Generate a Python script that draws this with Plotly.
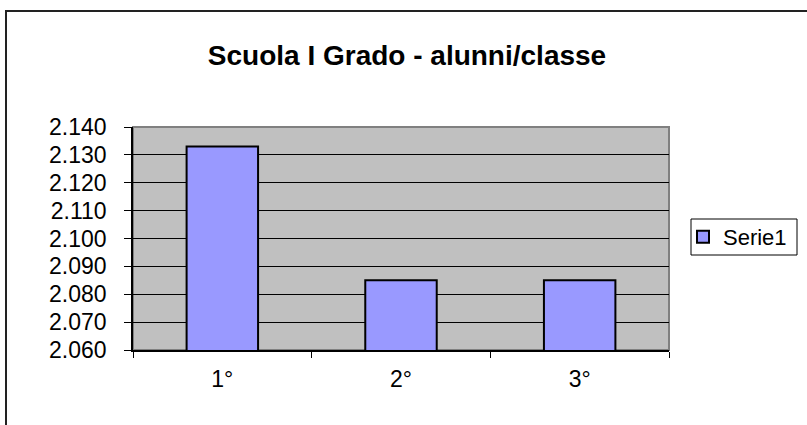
import plotly.graph_objects as go

categories = ["1°", "2°", "3°"]
values = [2133, 2085, 2085]
series_name = "Serie1"
title_text = "Scuola I Grado - alunni/classe"
y_min, y_max, y_step = 2060, 2140, 10

W, H = 807, 425
L, R, T, B = 133, 138, 127, 75
pw, ph = W - L - R, H - T - B

def px_to_paper_x(px):
    return (px - L) / pw

def px_to_paper_y(py):
    return 1 - (py - T) / ph

fig = go.Figure()
fig.add_trace(go.Bar(
    x=categories, y=values, name=series_name,
    marker=dict(color="#9999FF", line=dict(color="black", width=2)),
    showlegend=True,
))

fig.update_layout(
    width=W, height=H,
    margin=dict(l=L, r=R, t=T, b=B, autoexpand=False),
    paper_bgcolor="white",
    plot_bgcolor="#C0C0C0",
    separators=",.",
    bargap=0.6,
    font=dict(family="Liberation Sans, Arial, sans-serif", size=23, color="black"),
    title=dict(text="<b>" + title_text + "</b>", x=407 / W, xanchor="center",
               y=1 - 55 / H, yanchor="middle", yref="container",
               font=dict(size=28, color="black")),
    showlegend=True,
    legend=dict(x=px_to_paper_x(683), y=px_to_paper_y(237), xanchor="left", yanchor="middle",
                borderwidth=0, bgcolor="rgba(0,0,0,0)",
                font=dict(size=22), itemwidth=30),
    xaxis=dict(type="category", tickson="boundaries", ticks="outside", ticklen=6,
               tickcolor="black", tickwidth=1, showgrid=False, showline=True,
               linecolor="black", linewidth=1.5, ticklabelstandoff=8,
               tickfont=dict(size=23)),
    yaxis=dict(range=[y_min, y_max], dtick=y_step, tick0=y_min, tickformat=",d",
               ticks="outside", ticklen=7, tickcolor="black", tickwidth=1,
               showgrid=True, gridcolor="black", gridwidth=1, showline=True,
               linecolor="black", linewidth=1.5, zeroline=False,
               ticklabelstandoff=13, tickfont=dict(size=23)),
)

# plot area border (gray, Excel style)
fig.add_shape(type="rect", xref="paper", yref="paper", x0=0, x1=1, y0=0, y1=1,
              line=dict(color="#808080", width=2), layer="below")
# legend box
fig.add_shape(type="rect", xref="paper", yref="paper",
              x0=px_to_paper_x(691), x1=px_to_paper_x(797),
              y0=px_to_paper_y(255), y1=px_to_paper_y(219),
              line=dict(color="black", width=1), fillcolor="white")
# chart outer frame
fig.add_shape(type="rect", xref="paper", yref="paper",
              x0=px_to_paper_x(6), x1=px_to_paper_x(830),
              y0=px_to_paper_y(450), y1=px_to_paper_y(11),
              line=dict(color="#222222", width=2))

fig.write_html("out.html", config={"displayModeBar": False},
               post_script="document.body.style.margin='0';document.body.style.overflow='hidden';")
